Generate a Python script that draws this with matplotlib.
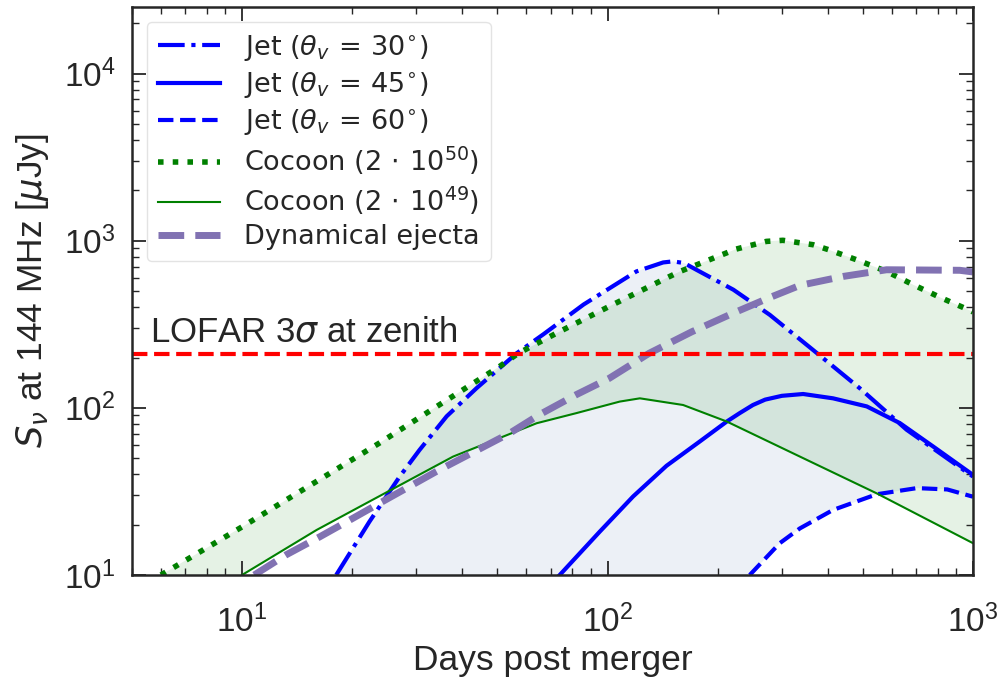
import numpy as np
import matplotlib
matplotlib.use('Agg')
import matplotlib.pyplot as plt

# light curves at 144 MHz, days after merger vs flux density in uJy
jet30_t = [18.1, 22.3, 27.0, 30.6, 36.3, 43.8, 56.4, 66.7, 86.0, 120, 142, 151, 162, 175,
           221, 278, 365, 490, 658, 1000]
jet30_f = [10.0, 20.8, 38.8, 56.0, 89.0, 131, 212, 275, 415, 655, 741, 752, 735, 670,
           509, 360, 222, 131, 74, 38.8]

jet45_t = [74, 95.3, 117.5, 145, 179, 212, 230, 250, 270, 300, 343, 414, 512, 631, 778, 1000]
jet45_f = [10.0, 18.2, 29.5, 45.0, 63.0, 82.8, 93, 104, 112, 118, 121, 114, 102, 81, 58.7, 39.7]

jet60_t = [245, 296, 336, 414, 545, 702, 850, 1000]
jet60_f = [10.0, 15.5, 19.0, 24.5, 30.4, 33.1, 32.5, 29.4]

cocoon50_t = [6.0, 10.0, 23.8, 50.7, 57.0, 72.6, 101, 145, 158, 190, 225, 272, 302,
              365, 402, 480, 580, 686, 820, 980, 1000]
cocoon50_f = [10.0, 19.4, 61.7, 177, 212, 280, 404, 598, 655, 769, 891, 990, 1005,
              946, 884, 769, 655, 545, 454, 383, 375]

cocoon49_t = [10.0, 16.0, 22.3, 37.8, 64, 82.2, 108, 122.6, 161, 212, 336, 545, 1000]
cocoon49_f = [10.0, 18.6, 27.5, 51.1, 80.9, 93, 109, 114, 104, 82.8, 51.1, 30.8, 15.5]

ejecta_t = [10.8, 13.2, 16.3, 19.7, 23.8, 34, 44.2, 54, 65, 82.2, 101, 130, 170, 221,
            280, 336, 441, 580, 920, 1000]
ejecta_f = [10.0, 13.2, 16.9, 21.3, 26.9, 41.6, 56.1, 70.5, 90.8, 120, 150, 212, 285, 369,
            460, 540, 611, 670, 665, 650]

lofar_limit = 210

dark = '#262626'
plt.rcParams.update({
    'font.family': ['Liberation Sans', 'DejaVu Sans'],
    'mathtext.fontset': 'dejavusans',
    'text.color': dark,
    'axes.labelcolor': dark,
    'axes.edgecolor': dark,
    'axes.linewidth': 1.8,
    'xtick.color': dark,
    'ytick.color': dark,
    'xtick.direction': 'in',
    'ytick.direction': 'in',
    'xtick.top': True,
    'ytick.right': True,
    'xtick.major.size': 10,
    'ytick.major.size': 10,
    'xtick.minor.size': 5,
    'ytick.minor.size': 5,
    'xtick.major.width': 1.3,
    'ytick.major.width': 1.3,
    'xtick.minor.width': 1.0,
    'ytick.minor.width': 1.0,
    'xtick.major.pad': 21,
    'ytick.major.pad': 12,
    'xtick.labelsize': 24,
    'ytick.labelsize': 24,
})

fig = plt.figure(figsize=(10.08, 6.78), dpi=100)
ax = fig.add_axes([132 / 1008, 1 - 575 / 678, 841 / 1008, 568 / 678])
ax.set_xscale('log')
ax.set_yscale('log')

# shaded bands: jet between 30 and 60 deg, cocoon between the two energies
ax.fill(np.concatenate([jet30_t, jet60_t[::-1]]),
        np.concatenate([jet30_f, jet60_f[::-1]]),
        color='#4C72B0', alpha=0.1, lw=0, zorder=1)
ax.fill(np.concatenate([cocoon50_t, cocoon49_t[::-1]]),
        np.concatenate([cocoon50_f, cocoon49_f[::-1]]),
        color='g', alpha=0.1, lw=0, zorder=1)

ax.plot(jet30_t, jet30_f, 'b-.', lw=3, label=r'Jet ($\theta_v\,=\,30^{\circ}$)')
ax.plot(jet45_t, jet45_f, 'b-', lw=3, label=r'Jet ($\theta_v\,=\,45^{\circ}$)')
ax.plot(jet60_t, jet60_f, 'b--', lw=3, label=r'Jet ($\theta_v\,=\,60^{\circ}$)')
ax.plot(cocoon50_t, cocoon50_f, 'g:', lw=4, label=r'Cocoon ($2\,\cdot\,10^{50}$)')
ax.plot(cocoon49_t, cocoon49_f, 'g-', lw=1.5, label=r'Cocoon ($2\,\cdot\,10^{49}$)')
ax.plot(ejecta_t, ejecta_f, '--', color='#8172B2', lw=5, label='Dynamical ejecta')

ax.axhline(lofar_limit, color='r', ls='--', lw=3)
ax.text(5.6, 250, r'LOFAR 3$\sigma$ at zenith', fontsize=25)

ax.set_xlim(5, 1000)
ax.set_ylim(10, 2.5e4)
ax.set_xlabel('Days post merger', fontsize=25.5)
ax.set_ylabel(r'$S_\nu$ at 144 MHz [$\mu$Jy]', fontsize=25.5, labelpad=9)

ax.legend(loc='upper left', prop={'family': 'DejaVu Sans', 'size': 19.5},
          handlelength=2.3, handletextpad=0.9, labelspacing=0.27,
          borderaxespad=0.55, framealpha=0.8, edgecolor='#dddddd')

fig.savefig('out.png', dpi=100)
